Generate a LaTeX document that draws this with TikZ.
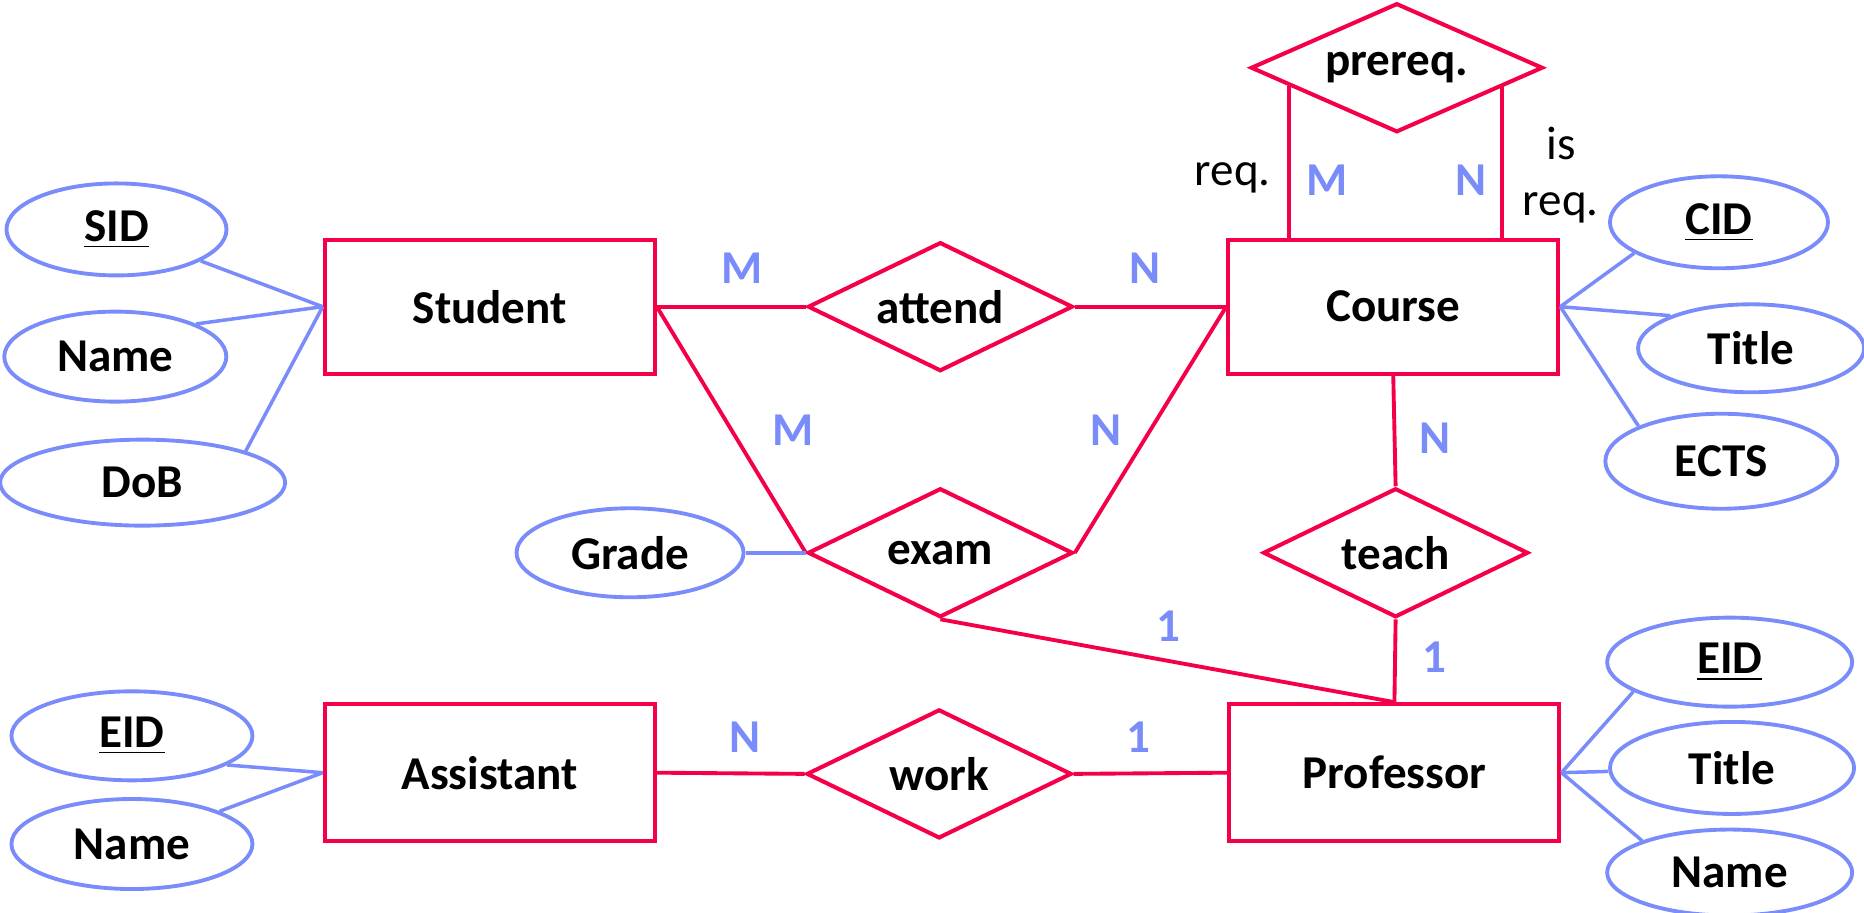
\documentclass[tikz,border=0pt]{standalone}
\usepackage{fontspec}
\setmainfont{Carlito}
\usetikzlibrary{shapes.geometric}
\usetikzlibrary{calc}
\usepackage{xcolor}
\definecolor{myred}{RGB}{245,0,72}
\definecolor{myblue}{RGB}{122,140,250}
\tikzset{
  x=0.01189cm, y=-0.01189cm,
  every node/.style={font=\bfseries\fontsize{13.4}{16}\selectfont},
  entity/.style={rectangle,draw=myred,line width=1.15pt,minimum width=3.3cm,minimum height=1.34cm,inner sep=0},
  relation/.style={diamond,draw=myred,line width=1.15pt,shape aspect=2.06,minimum width=2.65cm,minimum height=1.29cm,inner sep=0},
  attr/.style={ellipse,draw=myblue,line width=1.1pt,minimum width=2.25cm,minimum height=0.9cm,inner sep=0},
  link/.style={myred,line width=1.1pt},
  attr link/.style={myblue,line width=1pt},
  card/.style={myblue,inner sep=0},
  role/.style={black,inner sep=0,font=\fontsize{13.4}{16}\selectfont}
}

\begin{document}
\begin{tikzpicture}
  \useasboundingbox (0,0) rectangle (1568,768);
  % entities
  \node[entity] (student) at (412,258) {Student};
  \node[entity] (course) at (1172,258) {Course};
  \node[entity,minimum height=1.37cm] (assistant) at (412,650) {Assistant};
  \node[entity,minimum height=1.37cm] (professor) at (1173,650) {Professor};
  % relations
  \node[relation] (attend) at (791,258) {attend};
  \node[relation] (exam) at (791,465) {exam};
  \node[relation] (teach) at (1174,465) {teach};
  \node[relation] (work) at (790,651) {work};
  \node[relation,minimum width=2.92cm] (prereq) at (1175,57) {prereq.};
  % attributes
  \node[attr,minimum width=2.2cm,minimum height=0.92cm] (sid) at (98,193) {\underline{SID}};
  \node[attr,minimum width=2.22cm] (sname) at (97,300) {Name};
  \node[attr,minimum width=2.85cm,minimum height=0.86cm] (dob) at (120,406) {DoB};
  \node[attr,minimum width=2.27cm,minimum height=0.89cm] (grade) at (530,465) {Grade};
  \node[attr,minimum width=2.18cm,minimum height=0.92cm] (cid) at (1446,187) {\underline{CID}};
  \node[attr,minimum width=2.26cm,minimum height=0.88cm] (ctitle) at (1473,293) {Title};
  \node[attr,minimum width=2.32cm,minimum height=0.95cm] (ects) at (1448,388) {ECTS};
  \node[attr,minimum width=2.41cm,minimum height=0.89cm] (aeid) at (111,619) {\underline{EID}};
  \node[attr,minimum width=2.41cm] (aname) at (111,710) {Name};
  \node[attr,minimum width=2.45cm,minimum height=0.89cm] (peid) at (1455,557) {\underline{EID}};
  \node[attr,minimum width=2.44cm,minimum height=0.92cm] (ptitle) at (1457,646) {Title};
  \node[attr,minimum width=2.45cm,minimum height=0.86cm] (pname) at (1455,734) {Name};

  % relationship lines
  \draw[link] (student.east) -- (attend.west);
  \draw[link] (attend.east) -- (course.west);
  \draw[link] (student.east) -- (exam.west);
  \draw[link] (exam.east) -- (course.west);
  \draw[link] (course.south) -- (teach.north);
  \draw[link] (teach.south) -- (professor.north);
  \draw[link] (exam.south) -- (professor.north);
  \draw[link] (assistant.east) -- (work.west);
  \draw[link] (work.east) -- (professor.west);
  \coordinate (preqL) at ($(prereq.west)!0.27!(prereq.south)$);
  \coordinate (preqR) at ($(prereq.east)!0.29!(prereq.south)$);
  \draw[link] (preqL) -- (preqL |- course.north);
  \draw[link] (preqR) -- (preqR |- course.north);

  % attribute lines
  \draw[attr link] (sid) -- (student.west);
  \draw[attr link] (sname.22) -- (student.west);
  \draw[attr link] (dob.17) -- (student.west);
  \draw[attr link] (grade) -- (exam.west);
  \draw[attr link] (cid.200) -- (course.east);
  \draw[attr link] (ctitle.158) -- (course.east);
  \draw[attr link] (ects.157) -- (course.east);
  \draw[attr link] (aeid.-17) -- (assistant.west);
  \draw[attr link] (aname) -- (assistant.west);
  \draw[attr link] (peid.197) -- (professor.east);
  \draw[attr link] (ptitle) -- (professor.east);
  \draw[attr link] (pname.160) -- (professor.east);

  % cardinalities
  \node[card] (c1) at (624,226) {M};
  \node[card] (c2) at (963,226) {N};
  \node[card] (c3) at (667,362) {M};
  \node[card] (c4) at (930,362) {N};
  \node[card] (c5) at (1116,152) {M};
  \node[card] (c6) at (1237,152) {N};
  \node[card] (c7) at (1207,369) {N};
  \node[card] (c8) at (983,527) {1};
  \node[card] (c9) at (1207,553) {1};
  \node[card] (c10) at (627,620) {N};
  \node[card] (c11) at (958,620) {1};
  \node[role] (req) at (1037,150) {req.};
  \node[role,align=center] (isreq) at (1313,147) {is\\req.};
\end{tikzpicture}
\end{document}
